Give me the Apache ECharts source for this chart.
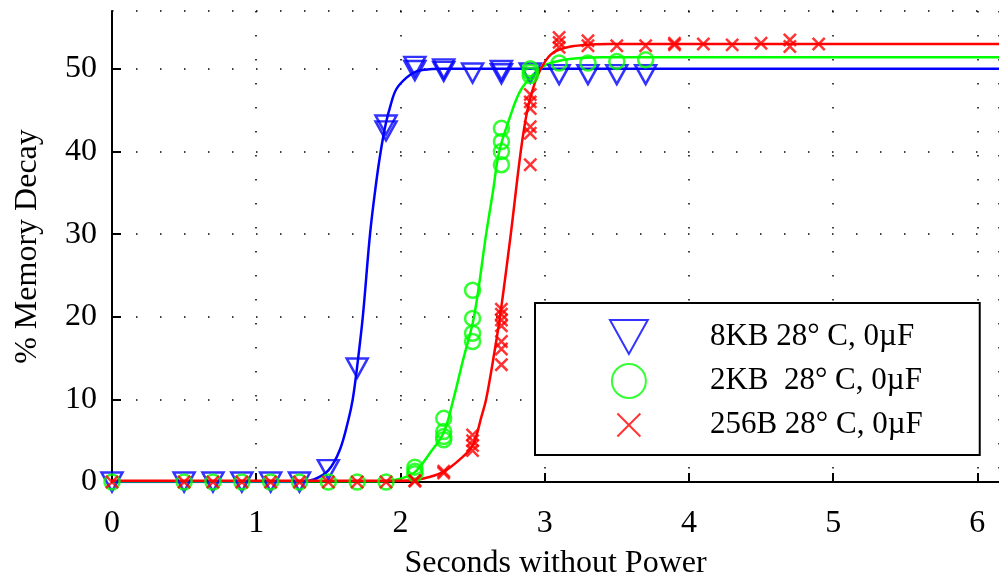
<!DOCTYPE html>
<html>
<head>
<meta charset="utf-8">
<script src="https://cdn.jsdelivr.net/npm/echarts@6/dist/echarts.min.js"></script>
<style>
  html, body { margin: 0; padding: 0; background: #fff; }
  #chart { width: 999px; height: 576px; }
</style>
</head>
<body>
<div id="chart"></div>
<script>
// Series names (legend)
const seriesNames = ['8KB 28° C, 0µF', '2KB  28° C, 0µF', '256B 28° C, 0µF'];

// Measured decay, 8KB part (seconds, % decay)
const blueX = [0, 0.5, 0.7, 0.9, 1.1, 1.3, 1.5, 1.7, 1.9, 1.9, 2.1, 2.1, 2.3, 2.3, 2.5, 2.7, 2.7, 2.9, 3.1, 3.3, 3.5, 3.7];
const blueY = [0, 0, 0, 0, 0, 0, 1.5, 13.8, 42.5, 43.2, 50.3, 49.8, 50.0, 49.7, 49.5, 49.8, 49.4, 49.5, 49.3, 49.3, 49.3, 49.3];

// Measured decay, 2KB part
const greenX = [0, 0.5, 0.7, 0.9, 1.1, 1.3, 1.5, 1.7, 1.9, 2.1, 2.1, 2.1, 2.3, 2.3, 2.3, 2.3,
                2.5, 2.5, 2.5, 2.5, 2.7, 2.7, 2.7, 2.7, 2.9, 2.9, 2.9, 3.1, 3.3, 3.5, 3.7];
const greenY = [0, 0, 0, 0, 0, 0, 0, 0, 0, 1.8, 1.3, 1.0, 7.7, 6.1, 5.5, 5.1,
                23.2, 19.8, 18.0, 17.0, 42.8, 41.2, 40.0, 38.4, 49.2, 49.6, 50.0, 50.7, 50.7, 50.9, 51.1];

// Measured decay, 256B part
const redX = [0, 0.5, 0.7, 0.9, 1.1, 1.3, 1.5, 1.7, 1.9, 2.1, 2.1, 2.3, 2.3,
              2.5, 2.5, 2.5, 2.5, 2.7, 2.7, 2.7, 2.7, 2.7, 2.7, 2.7,
              2.9, 2.9, 2.9, 2.9, 2.9, 2.9, 3.1, 3.1, 3.1, 3.3, 3.3, 3.5, 3.7,
              3.9, 3.9, 4.1, 4.3, 4.5, 4.7, 4.7, 4.9];
const redY = [0, 0, 0, 0, 0, 0, 0, 0, 0, 0.2, 0.1, 1.1, 1.3,
              5.7, 5.0, 4.4, 3.8, 20.9, 20.3, 19.6, 18.9, 17.0, 16.1, 14.2,
              46.9, 46.0, 45.2, 43.0, 42.2, 38.4, 53.8, 53.2, 52.6, 53.4, 52.8, 52.8, 52.8,
              53.1, 52.9, 53.0, 52.9, 53.1, 53.5, 52.7, 53.0];

// Fitted curves
const blueFitX = [0, 1.30, 1.40, 1.50, 1.58, 1.64, 1.669, 1.70, 1.739, 1.789, 1.83, 1.863, 1.90, 1.93, 1.97, 2.04, 2.11, 2.20, 2.30, 6.15];
const blueFitY = [0, 0, 0.3, 1.4, 3.9, 7.6, 10.0, 14.0, 20.0, 30.0, 36.0, 40.0, 43.5, 45.5, 47.5, 48.9, 49.7, 49.95, 50.0, 50.0];

const greenFitX = [0, 1.9, 2.0, 2.1, 2.2, 2.3, 2.367, 2.43, 2.51, 2.594, 2.64, 2.685, 2.76, 2.83, 2.92, 3.01, 3.11, 3.25, 3.4, 6.15];
const greenFitY = [0.1, 0.1, 0.4, 1.2, 3.4, 6.0, 10.0, 14.5, 20.0, 30.0, 35.0, 40.0, 44.2, 47.3, 49.3, 50.5, 51.0, 51.3, 51.4, 51.4];

const redFitX = [0, 2.0, 2.1, 2.2, 2.3, 2.41, 2.50, 2.563, 2.594, 2.64, 2.69, 2.765, 2.834, 2.88, 2.93, 2.97, 3.04, 3.13, 3.29, 3.45, 6.15];
const redFitY = [0.15, 0.15, 0.25, 0.6, 1.25, 2.7, 4.4, 8.0, 10.0, 14.5, 20.0, 30.0, 40.0, 45.0, 48.2, 49.9, 51.7, 52.5, 52.9, 53.0, 53.0];

const FONT = 'Liberation Serif';
const BLUE = '#0000ff', GREEN = '#00ff00', RED = '#ff0000';

const pairs = (xs, ys) => xs.map((x, i) => [x, ys[i]]);

// Hollow marker shapes
const TRI_DOWN = 'path://M0,0L20,0L10,18Z';
const CROSS = 'path://M-2.4,-2.4M0,0L10,10M10,0L0,10M12.4,12.4';

const dotted = { color: '#000', width: 1.5, type: [1.5, 22.5] };

function fitLine(name, xs, ys, color) {
  return {
    name: name + ' fit',
    type: 'line',
    data: pairs(xs, ys),
    showSymbol: false,
    smooth: 0.35,
    lineStyle: { color: color, width: 2.5 },
    itemStyle: { color: color },
    emphasis: { disabled: true },
    silent: true,
    z: 3
  };
}

function markers(name, xs, ys, color, symbol, size) {
  return {
    name: name,
    type: 'scatter',
    data: pairs(xs, ys),
    symbol: symbol,
    symbolSize: size,
    itemStyle: { color: 'rgba(0,0,0,0)', borderColor: color, borderWidth: 2.5 },
    emphasis: { disabled: true },
    silent: true,
    z: 4
  };
}

const chart = echarts.init(document.getElementById('chart'), null, { renderer: 'canvas' });
chart.setOption({
  animation: false,
  backgroundColor: '#fff',
  grid: { left: 112, right: 0, top: 11, bottom: 94, containLabel: false, outerBoundsMode: 'none' },
  xAxis: {
    type: 'value', min: 0, max: 6.15, interval: 1,
    name: 'Seconds without Power', nameLocation: 'middle', nameGap: 66,
    nameTextStyle: { fontFamily: FONT, fontSize: 32, color: '#000' },
    axisLine: { show: true, lineStyle: { color: '#000', width: 2 } },
    axisTick: { show: true, inside: true, length: 9, lineStyle: { color: '#000', width: 2 } },
    axisLabel: { fontFamily: FONT, fontSize: 32, color: '#000', margin: 26, showMaxLabel: false },
    splitLine: { show: true, lineStyle: dotted }
  },
  yAxis: {
    type: 'value', min: 0, max: 57, interval: 10,
    name: '% Memory Decay', nameLocation: 'middle', nameGap: 68,
    nameTextStyle: { fontFamily: FONT, fontSize: 32, color: '#000' },
    axisLine: { show: true, lineStyle: { color: '#000', width: 2 } },
    axisTick: { show: true, inside: true, length: 9, lineStyle: { color: '#000', width: 2 } },
    axisLabel: { fontFamily: FONT, fontSize: 32, color: '#000', margin: 15, showMaxLabel: false },
    splitLine: { show: true, lineStyle: dotted }
  },
  legend: {
    data: seriesNames,
    orient: 'vertical',
    left: 535, top: 303,
    backgroundColor: '#fff',
    borderColor: '#000', borderWidth: 2, borderRadius: 0,
    padding: [16, 57, 12, 74],
    itemWidth: 40, itemHeight: 34, itemGap: 8,
    selectedMode: false,
    textStyle: { fontFamily: FONT, fontSize: 31, color: '#000', padding: [0, 0, 0, 56] }
  },
  series: [
    fitLine(seriesNames[0], blueFitX, blueFitY, BLUE),
    fitLine(seriesNames[1], greenFitX, greenFitY, GREEN),
    fitLine(seriesNames[2], redFitX, redFitY, RED),
    markers(seriesNames[0], blueX, blueY, BLUE, TRI_DOWN, [21, 19]),
    markers(seriesNames[1], greenX, greenY, GREEN, 'circle', 15),
    markers(seriesNames[2], redX, redY, RED, CROSS, 18)
  ]
});
</script>
</body>
</html>
